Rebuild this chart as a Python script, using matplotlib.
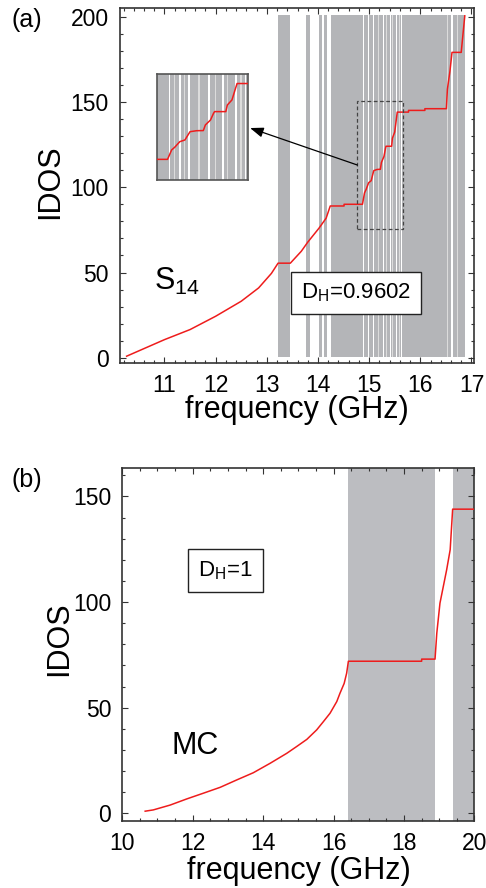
import matplotlib
matplotlib.use('Agg')
import matplotlib.pyplot as plt
from matplotlib.ticker import MultipleLocator

plt.rcParams['font.family'] = ['Liberation Sans', 'DejaVu Sans']
plt.rcParams['mathtext.fontset'] = 'custom'
plt.rcParams['mathtext.rm'] = 'Liberation Sans'

# ── Data: panel (a), S14 sequence ─────────────────────────────────────────────
freq_a = [10.26, 11.0, 11.5, 12.0, 12.5, 12.84, 13.09, 13.22, 13.46,
          13.675, 13.80, 14.02, 14.16, 14.24, 14.51, 14.51, 14.87, 14.91, 14.94,
          14.99, 15.04, 15.09, 15.155, 15.22, 15.24, 15.29, 15.32, 15.33, 15.44,
          15.455, 15.50, 15.52, 15.55, 15.77, 15.77, 16.09, 16.09, 16.51, 16.53,
          16.58, 16.62, 16.80, 16.87]
idos_a = [1, 10.7, 16.6, 24.4, 33.2, 41, 49.5, 55.5, 55.5,
          62.5, 67.8, 76, 81.9, 89, 89, 90, 90, 96.7, 98.6,
          102.6, 103.8, 109.7, 110.4, 110.5, 114.5, 118, 122.8, 124, 124,
          128.7, 132.3, 137, 144, 144, 145, 145, 146, 146, 157.4,
          168, 179, 179, 200.4]
gaps_a = [(13.22, 13.46), (13.77, 13.85), (14.02, 14.08), (14.11, 14.17), (14.25, 16.87)]
lines_a = [(14.88, 14.895), (14.93, 14.945), (14.985, 15.0), (15.03, 15.045),
           (15.07, 15.09), (15.17, 15.19), (15.27, 15.285), (15.33, 15.345),
           (15.40, 15.42), (15.45, 15.465), (15.53, 15.55), (15.58, 15.60),
           (15.625, 15.64), (16.52, 16.54), (16.61, 16.63), (16.72, 16.74)]
lines_a_col = ['white', '#dcdcdc', 'white', '#dcdcdc', 'white', '#dcdcdc', 'white', '#dcdcdc',
               'white', '#dcdcdc', 'white', '#dcdcdc', 'white', '#dcdcdc', 'white', '#dcdcdc']
zoom_x = (14.77, 15.66)
zoom_y = (75.3, 150.8)

# ── Data: panel (b), MC ───────────────────────────────────────────────────────
freq_b = [10.65, 10.88, 11.36, 11.83, 12.3, 12.78, 13.25, 13.72, 14.2, 14.67,
          14.95, 15.24, 15.52, 15.71, 15.9, 16.09, 16.18, 16.30, 16.37, 16.42,
          18.5, 18.5, 18.88, 18.93, 19.02, 19.21, 19.31, 19.38, 20.0]
idos_b = [1, 1.6, 3.9, 6.8, 9.5, 12.3, 15.8, 19.2, 23.7, 28.4,
          31.6, 35, 39.5, 43.4, 47.4, 52.9, 56.8, 61.5, 66.3, 72,
          72, 73, 73, 85.3, 99.5, 115.3, 124.8, 144, 144]
gaps_b = [(16.42, 18.88), (19.38, 20.0)]

RED = '#ee1c1c'
GRAY_A = '#b4b5b8'
GRAY_B = '#bcbdc1'
SPINE = '#333333'


def style_axis(ax):
    for s in ax.spines.values():
        s.set_color(SPINE)
        s.set_linewidth(1.2)
    ax.tick_params(which='both', direction='in', top=True, right=True,
                   color=SPINE, width=0.8, labelsize=16.5, pad=8)
    ax.tick_params(which='major', length=4)
    ax.tick_params(which='minor', length=2.5)


def draw_gaps(ax):
    for a, b in gaps_a:
        ax.bar(a, 200.5, width=b - a, bottom=0.5, align='edge', color=GRAY_A,
               linewidth=0, zorder=1)
    for (a, b), c in zip(lines_a, lines_a_col):
        ax.bar(a, 200.5, width=b - a, bottom=0.5, align='edge', color=c,
               linewidth=0, zorder=1.5)


fig = plt.figure(figsize=(4.86, 8.88), dpi=100)

# ── Panel (a) ────────────────────────────────────────────────────────────────
ax1 = fig.add_axes([0.2469, 0.5912, 0.7284, 0.3998])
draw_gaps(ax1)
ax1.plot(freq_a, idos_a, color=RED, lw=1.1, zorder=3)
ax1.set_xlim(10.13, 17.05)
ax1.set_ylim(-3, 205)
ax1.xaxis.set_major_locator(MultipleLocator(1))
ax1.xaxis.set_minor_locator(MultipleLocator(0.2))
ax1.yaxis.set_major_locator(MultipleLocator(50))
ax1.yaxis.set_minor_locator(MultipleLocator(10))
style_axis(ax1)
ax1.set_xlabel('frequency (GHz)', fontsize=22)
ax1.set_ylabel('IDOS', fontsize=22)
ax1.xaxis.set_label_coords(0.5, -0.09)
ax1.yaxis.set_label_coords(-0.155, 0.51)

# dashed zoom window and the inset
ax1.add_patch(plt.Rectangle((zoom_x[0], zoom_y[0]), zoom_x[1] - zoom_x[0],
                            zoom_y[1] - zoom_y[0], fill=False, ls=(0, (3, 2)),
                            lw=0.9, ec='#444444', zorder=4))
ax1.text(10.80, 40, 'S$_{\\mathrm{14}}$', fontsize=22, zorder=5)
ax1.text(14.74, 38, 'D$_{\\mathrm{H}}$=0.9602', fontsize=16, ha='center', va='center',
         zorder=5, bbox=dict(boxstyle='square,pad=0.45', fc='white', ec='#222222', lw=1))

axins = fig.add_axes([0.3237, 0.7973, 0.1872, 0.1194])
draw_gaps(axins)
axins.plot(freq_a, idos_a, color=RED, lw=1.1, zorder=3)
axins.set_xlim(*zoom_x)
axins.set_ylim(*zoom_y)
axins.set_xticks([])
axins.set_yticks([])
for s in axins.spines.values():
    s.set_color('#555555')
    s.set_linewidth(1.2)

ax1.annotate('', xy=(1.02, 0.49), xycoords=axins.transAxes,
             xytext=(zoom_x[0], 113), textcoords='data',
             arrowprops=dict(arrowstyle='-|>,head_length=0.8,head_width=0.3',
                             color='black', lw=0.9, shrinkA=0, shrinkB=0),
             zorder=6)

# ── Panel (b) ────────────────────────────────────────────────────────────────
ax2 = fig.add_axes([0.2516, 0.0758, 0.7247, 0.3972])
for a, b in gaps_b:
    ax2.axvspan(a, b, color=GRAY_B, lw=0, zorder=1)
ax2.plot(freq_b, idos_b, color=RED, lw=1.1, zorder=3)
ax2.set_xlim(10, 20)
ax2.set_ylim(-3.5, 163.5)
ax2.xaxis.set_major_locator(MultipleLocator(2))
ax2.xaxis.set_minor_locator(MultipleLocator(0.5))
ax2.yaxis.set_major_locator(MultipleLocator(50))
ax2.yaxis.set_minor_locator(MultipleLocator(10))
style_axis(ax2)
ax2.set_xlabel('frequency (GHz)', fontsize=22)
ax2.set_ylabel('IDOS', fontsize=22)
ax2.xaxis.set_label_coords(0.5, -0.1)
ax2.yaxis.set_label_coords(-0.136, 0.515)
ax2.text(11.4, 28, 'MC', fontsize=22, zorder=5)
ax2.text(12.93, 115, 'D$_{\\mathrm{H}}$=1', fontsize=16, ha='center', va='center',
         zorder=5, bbox=dict(boxstyle='square,pad=0.45', fc='white', ec='#222222', lw=1))

fig.text(0.024, 0.991, '(a)', fontsize=18, va='top', ha='left')
fig.text(0.024, 0.473, '(b)', fontsize=18, va='top', ha='left')

fig.savefig('out.png', dpi=100)
